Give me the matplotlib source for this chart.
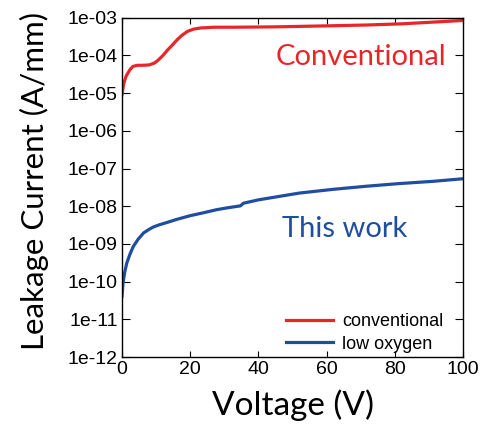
import matplotlib
matplotlib.use("Agg")
import matplotlib.pyplot as plt
import numpy as np

# values (voltage in V, log10 of current in A/mm)
v_conv = [0, 0.5, 1.2, 2.3, 3.2, 4.5, 6, 8, 9.5, 10.4, 12, 13.4, 15, 16.2, 17.5, 19.2, 21, 23, 27, 32.7, 45, 62, 72, 82, 92, 100]
log_conv = [-5.04, -4.75, -4.55, -4.38, -4.29, -4.26, -4.26, -4.25, -4.2, -4.14, -4.0, -3.85, -3.7, -3.58, -3.47, -3.36, -3.3, -3.27, -3.25, -3.25, -3.24, -3.21, -3.19, -3.16, -3.11, -3.07]

v_low = [0, 0.3, 0.8, 1.4, 2.3, 3.3, 4.7, 6.3, 8, 9.2, 11, 13.2, 16, 20, 24, 27.8, 31, 34.7, 35.6, 40, 46, 52, 62, 71.5, 81, 91, 100]
log_low = [-10.39, -10.04, -9.75, -9.51, -9.28, -9.07, -8.88, -8.71, -8.61, -8.55, -8.49, -8.43, -8.35, -8.25, -8.17, -8.09, -8.04, -7.99, -7.92, -7.83, -7.74, -7.65, -7.55, -7.47, -7.4, -7.34, -7.27]

series_labels = ["conventional", "low oxygen"]
y_ticks = [1e-12, 1e-11, 1e-10, 1e-9, 1e-8, 1e-7, 1e-6, 1e-5, 1e-4, 1e-3]
x_ticks = [0, 20, 40, 60, 80, 100]

red = "#e8262a"
blue = "#1f4ea1"

fig = plt.figure(figsize=(4.86, 4.24), dpi=100)
ax = fig.add_axes([0.251, 0.158, 0.702, 0.800])

ax.plot(v_conv, 10 ** np.array(log_conv), color=red, lw=2.3, label=series_labels[0])
ax.plot(v_low, 10 ** np.array(log_low), color=blue, lw=2.3, label=series_labels[1])

ax.set_yscale("log")
ax.set_xlim(0, 100)
ax.set_ylim(1e-12, 1e-3)
ax.set_yticks(y_ticks)
ax.set_yticklabels([f"{t:.0e}" for t in y_ticks])
ax.set_xticks(x_ticks)
ax.tick_params(axis="both", which="both", direction="in", top=True, right=True,
               labelsize=14, pad=3)
ax.tick_params(axis="y", which="major", length=6)
ax.tick_params(axis="y", which="minor", length=3)
ax.tick_params(axis="x", which="major", length=4)
for lab in ax.get_xticklabels() + ax.get_yticklabels():
    lab.set_family("Liberation Sans")

ax.set_xlabel("Voltage (V)", fontsize=24, family="Lato", labelpad=8)
ax.set_ylabel("Leakage Current (A/mm)", fontsize=22.5, family="Lato")
ax.yaxis.set_label_coords(-0.215, 0.52)

ax.text(95, 10 ** -4.05, "Conventional", color=red, fontsize=21, family="Lato",
        ha="right", va="center")
ax.text(47, 10 ** -8.6, "This work", color=blue, fontsize=21, family="Lato",
        ha="left", va="center")

leg = ax.legend(loc="lower right", frameon=False,
                prop={"family": "Liberation Sans", "size": 13},
                handlelength=2.6, handletextpad=0.5, labelspacing=0.3,
                bbox_to_anchor=(0.99, -0.035))

for s in ax.spines.values():
    s.set_linewidth(1.0)

fig.savefig("out.png", dpi=100)
